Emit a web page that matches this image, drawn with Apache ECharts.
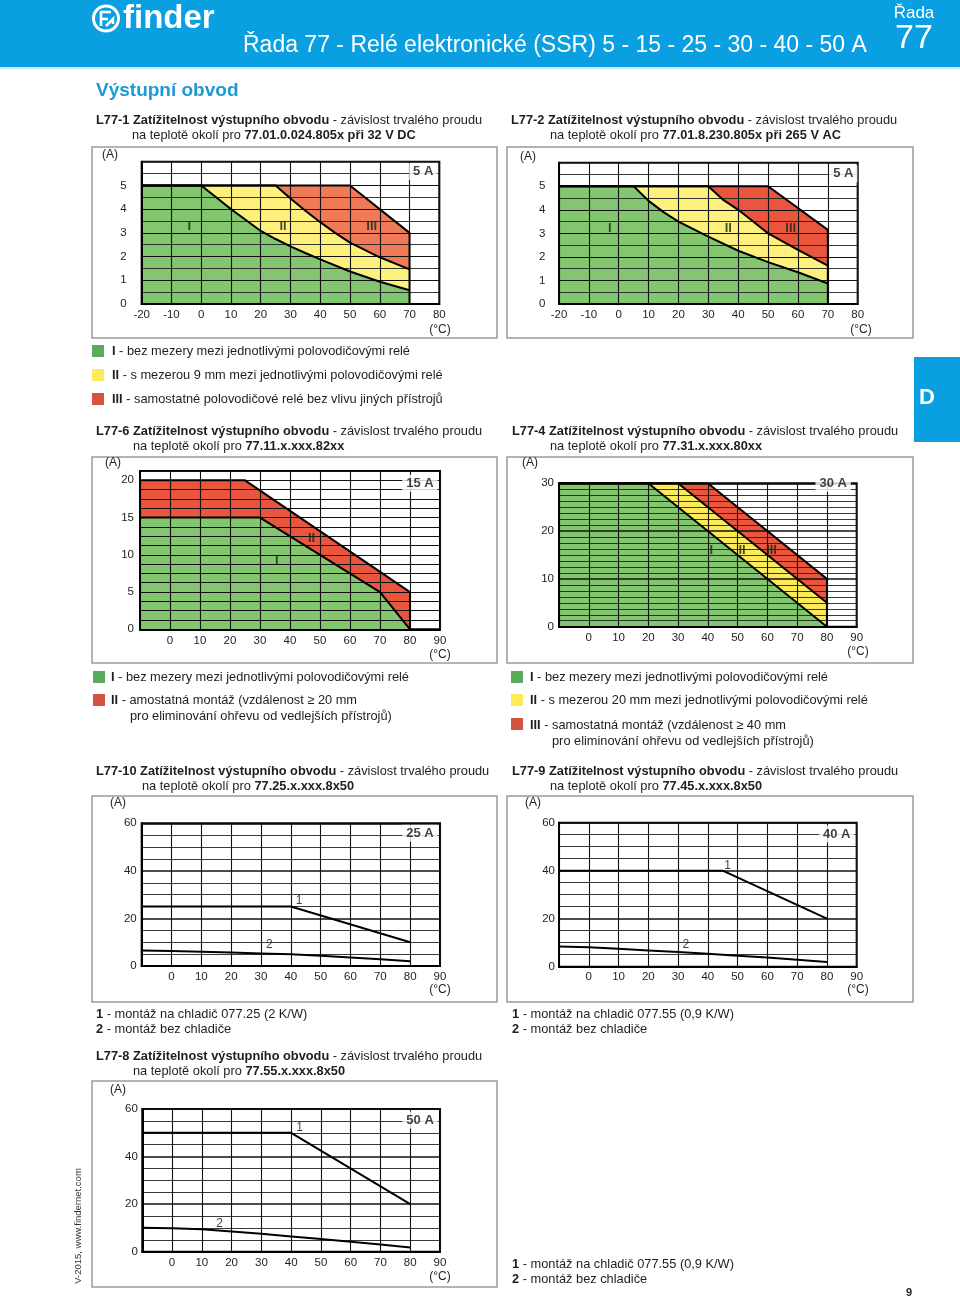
<!DOCTYPE html>
<html><head><meta charset="utf-8">
<script src="https://cdn.jsdelivr.net/npm/echarts@6/dist/echarts.min.js"></script>
<style>html,body{margin:0;padding:0;background:#fff}#c{width:960px;height:1301px}</style>
</head><body><div id="c"></div>
<script>
// ================= DATA (x = ambient temperature °C, y = current A) =================
// L77-1  77.01.0.024.805x at 32 V DC
const l1CurveI   = [[-20,5],[0,5],[5,4.5],[10,4.0],[15,3.54],[20,3.08],[25,2.74],[30,2.43],[35,2.15],[40,1.88],[50,1.37],[60,0.94],[70,0.58]];
const l1CurveII  = [[-20,5],[25,5],[30,4.45],[35,3.93],[40,3.45],[45,3.0],[50,2.59],[60,1.97],[70,1.46]];
const l1CurveIII = [[-20,5],[50,5],[70,3.0],[70,0]];
const l1Labels   = [['I',-4,3.26],['II',27.5,3.26],['III',57.3,3.26]];
const l1Rating   = [['5 A',74.6,5.58]];
// L77-2  77.01.8.230.805x at 265 V AC
const l2CurveI   = [[-20,5],[5,5],[10,4.38],[15,3.9],[20,3.5],[30,2.86],[40,2.26],[50,1.78],[60,1.35],[70,0.87]];
const l2CurveII  = [[-20,5],[30,5],[35,4.42],[40,4.0],[45,3.5],[50,3.0],[60,2.3],[70,1.63]];
const l2CurveIII = [[-20,5],[50,5],[70,3.15],[70,0]];
const l2Labels   = [['I',-3,3.19],['II',36.7,3.19],['III',57.6,3.19]];
const l2Rating   = [['5 A',75.2,5.53]];
// L77-6  77.11.x.xxx.82xx
const l6CurveI   = [[-10,15],[30,15],[70,5],[80,0]];
const l6CurveII  = [[-10,20],[25,20],[80,5],[80,0]];
const l6Labels   = [['I',35.6,9.3],['II',47.2,12.2]];
const l6Rating   = [['15 A',83.3,19.6]];
// L77-4  77.31.x.xxx.80xx
const l4CurveI   = [[-10,30],[20,30],[80,0]];
const l4CurveII  = [[-10,30],[30,30],[80,5]];
const l4CurveIII = [[-10,30],[40,30],[80,10],[80,0]];
const l4Labels   = [['I',41.2,16],['II',51.5,16],['III',61.4,16]];
const l4Rating   = [['30 A',82.1,30]];
// L77-10 77.25.x.xxx.8x50
const l10Curve1  = [[-10,25],[40,25],[80,10]];
const l10Curve2  = [[-10,6.5],[0,6.3],[10,6.0],[20,5.7],[30,5.3],[40,4.9],[50,4.3],[60,3.6],[70,2.8],[80,2.0]];
const l10Labels  = [['1',42.8,27.5],['2',32.8,9.1]];
const l10Rating  = [['25 A',83.3,55.8]];
// L77-9  77.45.x.xxx.8x50
const l9Curve1   = [[-10,40],[45,40],[80,20]];
const l9Curve2   = [[-10,8.4],[0,8.1],[10,7.5],[20,6.8],[30,6.1],[40,5.4],[50,4.6],[60,3.8],[70,2.9],[80,2.0]];
const l9Labels   = [['1',46.6,41.9],['2',32.6,9.0]];
const l9Rating   = [['40 A',83.3,55.3]];
// L77-8  77.55.x.xxx.8x50
const l8Curve1   = [[-10,50],[40,50],[80,20]];
const l8Curve2   = [[-10,10.1],[0,9.9],[10,9.4],[20,8.5],[30,7.5],[40,6.4],[50,5.3],[60,4.2],[70,3.0],[80,1.8]];
const l8Labels   = [['1',42.8,52.2],['2',16,11.9]];
const l8Rating   = [['50 A',83.3,55.4]];
// axis ranges
const tempRangeA = [-20, 80];   // L77-1, L77-2
const tempRangeB = [-10, 90];   // others
const currMax    = [6, 6, 21.25, 30, 60, 60, 60];

// ================= STYLE / LAYOUT =================
const FONT = "'Liberation Sans', Arial, Helvetica, sans-serif";
const TXT = '#1e1e1e';
const BLUE = '#0a9fe0';
const GREEN = '#84c56f', YELLOW = '#fdf07c', RED1 = '#f07a58', RED = '#e9553d', YELLOW4 = '#fbeb5a';

const grids = [
  {left:141.7, top:161.7, width:297.6, height:142.3},
  {left:559,   top:162.7, width:298.7, height:141.3},
  {left:140,   top:471,   width:300,   height:158.3},
  {left:559,   top:483.3, width:297.7, height:143.4},
  {left:141.7, top:823.3, width:298.3, height:142.7},
  {left:559,   top:822.7, width:297.7, height:144},
  {left:142.3, top:1109,  width:297.7, height:142.7}
].map(g => Object.assign({show:true, borderColor:'#000', borderWidth:2, backgroundColor:'transparent', containLabel:false}, g));

const xCfg = [
  {r:tempRangeA, margin:5, hideMin:false},
  {r:tempRangeA, margin:5, hideMin:false},
  {r:tempRangeB, margin:6, hideMin:true},
  {r:tempRangeB, margin:5, hideMin:true},
  {r:tempRangeB, margin:5, hideMin:true},
  {r:tempRangeB, margin:4, hideMin:true},
  {r:tempRangeB, margin:5, hideMin:true}
];
const yCfg = [
  {interval:1, minor:2, labelMax:5, margin:15, every:1, mw:1},
  {interval:1, minor:2, labelMax:5, margin:13.5, every:1, mw:1},
  {interval:1.25, minor:0, labelMax:20, margin:6, every:5, mw:1, pad:[0,0,7,0]},
  {interval:10, minor:8, labelMax:30, margin:5, every:10, mw:1.6},
  {interval:20, minor:4, labelMax:60, margin:5, every:20, mw:1.6},
  {interval:20, minor:4, labelMax:60, margin:4, every:20, mw:1.6},
  {interval:20, minor:4, labelMax:60, margin:4.5, every:20, mw:1.6}
];

const xAxis = xCfg.map((c,i) => ({
  type:'value', gridIndex:i, min:c.r[0], max:c.r[1], interval:10, z:4,
  axisLine:{show:true, onZero:false, lineStyle:{color:'#000', width:2}},
  axisTick:{show:false},
  splitLine:{show:true, lineStyle:{color:'#111', width:1.1}},
  axisLabel:{show:true, fontFamily:FONT, fontSize:11.5, color:TXT, margin:c.margin,
    formatter: v => (c.hideMin && v === c.r[0]) ? '' : String(v)}
}));
const yAxis = yCfg.map((c,i) => ({
  type:'value', gridIndex:i, min:0, max:currMax[i], interval:c.interval, z:4,
  axisLine:{show:true, onZero:false, lineStyle:{color:'#000', width:2}},
  axisTick:{show:false},
  splitLine:{show:true, lineStyle:{color:'#111', width:c.mw}},
  minorTick:{show:false, splitNumber:c.minor || 1},
  minorSplitLine:{show: !!c.minor, lineStyle:{color:'#222', width:0.9}},
  axisLabel:{show:true, fontFamily:FONT, fontSize:11.5, color:TXT, margin:c.margin, padding:c.pad || 0,
    formatter: v => {
      if (v > c.labelMax + 1e-9) return '';
      const q = v / c.every;
      if (Math.abs(q - Math.round(q)) > 1e-9) return '';
      return String(v);
    }}
}));

function area(gi, data, color, z) {
  return {type:'line', xAxisIndex:gi, yAxisIndex:gi, data, symbol:'none', silent:true, z,
    lineStyle:{width:0, opacity:0}, areaStyle:{color, opacity:1}};
}
function edge(gi, data) {
  return {type:'line', xAxisIndex:gi, yAxisIndex:gi, data, symbol:'none', silent:true, z:6,
    lineStyle:{color:'#000', width:2}};
}
function labels(gi, items, lab) {
  return {type:'scatter', xAxisIndex:gi, yAxisIndex:gi, silent:true, z:8, clip:false, symbolSize:1,
    itemStyle:{color:'rgba(0,0,0,0)'},
    data: items.map(t => ({name:t[0], value:[t[1], t[2]]})),
    label:Object.assign({show:true, position:'inside', formatter:'{b}', fontFamily:FONT, color:'#111'}, lab)};
}
const regionLab = {fontSize:13, fontWeight:'bold', color:'#142814'};
const numLab = {fontSize:12};
const ratingLab = {fontSize:13, fontWeight:'bold', backgroundColor:'#fff', padding:[2,4,2,4]};

const series = [
  // L77-1
  area(0, l1CurveIII, RED1, 1), area(0, l1CurveII, YELLOW, 2), area(0, l1CurveI, GREEN, 3),
  edge(0, l1CurveIII), edge(0, l1CurveII), edge(0, l1CurveI),
  labels(0, l1Labels, regionLab), labels(0, l1Rating, ratingLab),
  // L77-2
  area(1, l2CurveIII, RED, 1), area(1, l2CurveII, YELLOW, 2), area(1, l2CurveI, GREEN, 3),
  edge(1, l2CurveIII), edge(1, l2CurveII), edge(1, l2CurveI),
  labels(1, l2Labels, regionLab), labels(1, l2Rating, ratingLab),
  // L77-6
  area(2, l6CurveII, RED, 1), area(2, l6CurveI, GREEN, 2),
  edge(2, l6CurveII), edge(2, l6CurveI),
  labels(2, l6Labels, regionLab), labels(2, l6Rating, ratingLab),
  // L77-4
  area(3, l4CurveIII, RED, 1), area(3, l4CurveII, YELLOW4, 2), area(3, l4CurveI, GREEN, 3),
  edge(3, l4CurveIII), edge(3, l4CurveII), edge(3, l4CurveI),
  labels(3, l4Labels, regionLab), labels(3, l4Rating, ratingLab),
  // L77-10
  edge(4, l10Curve1), edge(4, l10Curve2),
  labels(4, l10Labels, numLab), labels(4, l10Rating, ratingLab),
  // L77-9
  edge(5, l9Curve1), edge(5, l9Curve2),
  labels(5, l9Labels, numLab), labels(5, l9Rating, ratingLab),
  // L77-8
  edge(6, l8Curve1), edge(6, l8Curve2),
  labels(6, l8Labels, numLab), labels(6, l8Rating, ratingLab)
];

// ================= TEXT / DECOR =================
function txt(x, y, text, o) {
  return {type:'text', x, y, silent:true, z:10,
    style:Object.assign({text, fontFamily:FONT, fontSize:12.8, fill:TXT, align:'left', verticalAlign:'middle'}, o || {})};
}
const RICH = {
  b:{fontFamily:FONT, fontSize:12.8, fontWeight:'bold', fill:TXT},
  r:{fontFamily:FONT, fontSize:12.8, fill:TXT}
};
function rich(x, y, text) {
  return {type:'text', x, y, silent:true, z:10,
    style:{text, fontFamily:FONT, fontSize:12.8, fill:TXT, align:'left', verticalAlign:'middle', rich:RICH}};
}
function box(x, y, w, h) {
  return {type:'rect', silent:true, z:0, shape:{x, y, width:w, height:h}, style:{fill:'none', stroke:'#9a9a9a', lineWidth:1.5}};
}
function sq(x, y, color) {
  return {type:'rect', silent:true, z:10, shape:{x, y, width:12, height:12}, style:{fill:color}};
}
function ln(pts) {
  return {type:'polyline', silent:true, z:10, shape:{points:pts}, style:{fill:null, stroke:'#fff', lineWidth:2.6}};
}
const small = {fontSize:12, align:'center'};
const TITLE1 = '{b|Zatížitelnost výstupního obvodu}{r| - závislost trvalého proudu}';

const graphic = [
  // header
  {type:'rect', silent:true, shape:{x:0, y:0, width:960, height:67}, style:{fill:BLUE}},
  {type:'rect', silent:true, shape:{x:0, y:67, width:960, height:2}, style:{fill:'#d4e9f5'}},
  {type:'circle', silent:true, z:10, shape:{cx:106, cy:18.5, r:12.5}, style:{fill:'none', stroke:'#fff', lineWidth:3}},
  ln([[101,11],[101,26]]), ln([[101,12],[111,12]]), ln([[101,19],[108,19]]), ln([[106,26],[113,19],[113,24]]),
  txt(123, 19, 'finder', {fontSize:33, fontWeight:'bold', fill:'#fff'}),
  txt(243, 46, 'Řada 77 - Relé elektronické (SSR) 5 - 15 - 25 - 30 - 40 - 50 A', {fontSize:23, fill:'#fff'}),
  txt(914, 13, 'Řada', {fontSize:17, fill:'#fff', align:'center'}),
  txt(914, 39, '77', {fontSize:34, fill:'#fff', align:'center'}),
  txt(96, 91, 'Výstupní obvod', {fontSize:19, fontWeight:'bold', fill:'#1d9ad6'}),
  // D tab
  {type:'rect', silent:true, shape:{x:914, y:357, width:46, height:85}, style:{fill:BLUE}},
  txt(927, 398, 'D', {fontSize:22, fontWeight:'bold', fill:'#fff', align:'center'}),

  // chart titles
  rich(96, 120.5, '{b|L77-1 }' + TITLE1), rich(132, 135.5, '{r|na teplotě okolí pro }{b|77.01.0.024.805x při 32 V DC}'),
  rich(511, 120.5, '{b|L77-2 }' + TITLE1), rich(550, 135.5, '{r|na teplotě okolí pro }{b|77.01.8.230.805x při 265 V AC}'),
  rich(96, 431, '{b|L77-6 }' + TITLE1), rich(133, 446, '{r|na teplotě okolí pro }{b|77.11.x.xxx.82xx}'),
  rich(512, 431, '{b|L77-4 }' + TITLE1), rich(550, 446, '{r|na teplotě okolí pro }{b|77.31.x.xxx.80xx}'),
  rich(96, 771, '{b|L77-10 }' + TITLE1), rich(142, 786, '{r|na teplotě okolí pro }{b|77.25.x.xxx.8x50}'),
  rich(512, 771, '{b|L77-9 }' + TITLE1), rich(550, 786, '{r|na teplotě okolí pro }{b|77.45.x.xxx.8x50}'),
  rich(96, 1056, '{b|L77-8 }' + TITLE1), rich(133, 1071, '{r|na teplotě okolí pro }{b|77.55.x.xxx.8x50}'),

  // chart frames
  box(92, 147, 405, 191), box(507, 147, 406, 191),
  box(92, 457, 405, 206), box(507, 457, 406, 206),
  box(92, 796, 405, 206), box(507, 796, 406, 206),
  box(92, 1081, 405, 206),

  // unit captions
  txt(110, 155, '(A)', small), txt(528, 157, '(A)', small),
  txt(113, 463, '(A)', small), txt(530, 463, '(A)', small),
  txt(118, 803, '(A)', small), txt(533, 803, '(A)', small),
  txt(118, 1090, '(A)', small),
  txt(440, 330, '(°C)', small), txt(861, 330, '(°C)', small),
  txt(440, 655, '(°C)', small), txt(858, 652, '(°C)', small),
  txt(440, 990, '(°C)', small), txt(858, 990, '(°C)', small),
  txt(440, 1277, '(°C)', small),

  // legends L77-1 / L77-2
  sq(92, 345, '#5aab5a'), rich(112, 351, '{b|I}{r| - bez mezery mezi jednotlivými polovodičovými relé}'),
  sq(92, 369, '#fdec5a'), rich(112, 375, '{b|II}{r| - s mezerou 9 mm mezi jednotlivými polovodičovými relé}'),
  sq(92, 393, '#d6533f'), rich(112, 399, '{b|III}{r| - samostatné polovodičové relé bez vlivu jiných přístrojů}'),
  // legend L77-6
  sq(93, 671, '#5aab5a'), rich(111, 677, '{b|I}{r| - bez mezery mezi jednotlivými polovodičovými relé}'),
  sq(93, 694, '#d6533f'), rich(111, 700, '{b|II}{r| - amostatná montáž (vzdálenost ≥ 20 mm}'),
  rich(130, 716, '{r|pro eliminování ohřevu od vedlejších přístrojů)}'),
  // legend L77-4
  sq(511, 671, '#5aab5a'), rich(530, 677, '{b|I}{r| - bez mezery mezi jednotlivými polovodičovými relé}'),
  sq(511, 694, '#fdec5a'), rich(530, 700, '{b|II}{r| - s mezerou 20 mm mezi jednotlivými polovodičovými relé}'),
  sq(511, 718, '#d6533f'), rich(530, 725, '{b|III}{r| - samostatná montáž (vzdálenost ≥ 40 mm}'),
  rich(552, 741, '{r|pro eliminování ohřevu od vedlejších přístrojů)}'),
  // notes
  rich(96, 1014, '{b|1}{r| - montáž na chladič 077.25 (2 K/W)}'),
  rich(96, 1029, '{b|2}{r| - montáž bez chladiče}'),
  rich(512, 1014, '{b|1}{r| - montáž na chladič 077.55 (0,9 K/W)}'),
  rich(512, 1029, '{b|2}{r| - montáž bez chladiče}'),
  rich(512, 1264, '{b|1}{r| - montáž na chladič 077.55 (0,9 K/W)}'),
  rich(512, 1279, '{b|2}{r| - montáž bez chladiče}'),
  // footer
  {type:'text', silent:true, x:78, y:1226, rotation:Math.PI/2,
    style:{text:'V-2015, www.findernet.com', fontFamily:FONT, fontSize:9.5, fill:'#333', align:'center', verticalAlign:'middle'}},
  txt(909, 1293, '9', {fontSize:11, fontWeight:'bold', align:'center'})
];

const chart = echarts.init(document.getElementById('c'), null, {renderer:'canvas', width:960, height:1301});
chart.setOption({
  animation:false,
  backgroundColor:'#fff',
  grid:grids, xAxis, yAxis, series, graphic
});
</script></body></html>
